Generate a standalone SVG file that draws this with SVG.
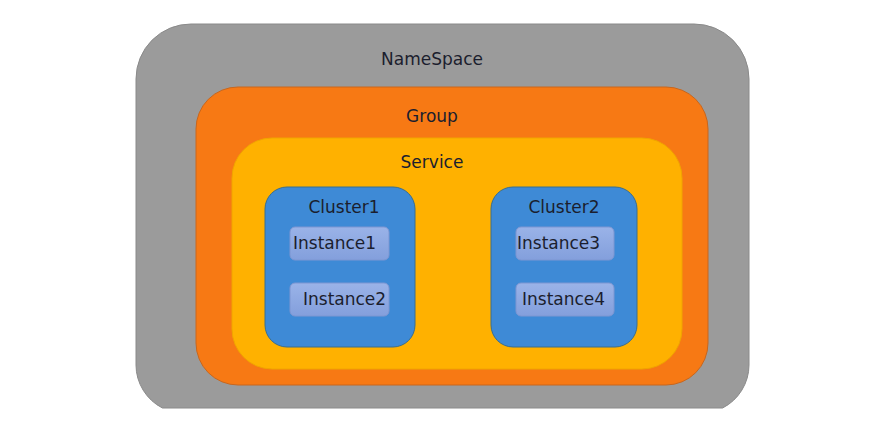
<svg xmlns="http://www.w3.org/2000/svg" width="890" height="432" viewBox="0 0 890 432">
  <defs>
    <linearGradient id="instGrad" x1="0" y1="0" x2="0" y2="1">
      <stop offset="0" stop-color="#9ab3e8"/>
      <stop offset="1" stop-color="#839fdc"/>
    </linearGradient>
  </defs>
  <style>
    text { font-family: "DejaVu Sans", "Liberation Sans", sans-serif; font-size: 17px; fill: #1b1e2e; }
    .ns { fill: #9b9b9b; stroke: #8a8a8a; stroke-width: 1; }
    .grp { fill: #f77914; stroke: #c9661c; stroke-width: 1; }
    .svc { fill: #ffb100; stroke: #f0a500; stroke-width: 1; }
    .cl { fill: #3e8ad6; stroke: #3a6e8e; stroke-width: 1; }
    .inst { fill: url(#instGrad); stroke: #7d96d2; stroke-width: 1; }
  </style>
  <rect width="890" height="432" fill="#ffffff"/>
  <g id="namespace">
    <path class="ns" d="M136,79 A55 55 0 0 1 191,24 H694 A55 55 0 0 1 749,79 V365 A48.6 48.6 0 0 1 722.6,408 H162.4 A48.6 48.6 0 0 1 136,365 Z"/>
    <text x="432" y="65" text-anchor="middle">NameSpace</text>
  </g>
  <g id="group">
    <rect class="grp" x="196" y="87" width="512" height="298" rx="42"/>
    <text x="432" y="122" text-anchor="middle">Group</text>
  </g>
  <g id="service">
    <rect class="svc" x="232" y="138" width="450" height="231" rx="40"/>
    <text x="432" y="168" text-anchor="middle">Service</text>
  </g>
  <g id="cluster1">
    <rect class="cl" x="265" y="187" width="150" height="160" rx="22"/>
    <text x="344" y="213" text-anchor="middle">Cluster1</text>
  </g>
  <g id="cluster2">
    <rect class="cl" x="491" y="187" width="146" height="160" rx="22"/>
    <text x="564" y="213" text-anchor="middle">Cluster2</text>
  </g>
  <g id="instance1">
    <rect class="inst" x="290" y="227" width="99" height="33" rx="5"/>
    <text x="293" y="249">Instance1</text>
  </g>
  <g id="instance2">
    <rect class="inst" x="290" y="283" width="99" height="33" rx="5"/>
    <text x="303" y="305">Instance2</text>
  </g>
  <g id="instance3">
    <rect class="inst" x="516" y="227" width="98" height="33" rx="5"/>
    <text x="517" y="249">Instance3</text>
  </g>
  <g id="instance4">
    <rect class="inst" x="516" y="283" width="98" height="33" rx="5"/>
    <text x="522" y="305">Instance4</text>
  </g>
  <g id="connectors"/>
</svg>
